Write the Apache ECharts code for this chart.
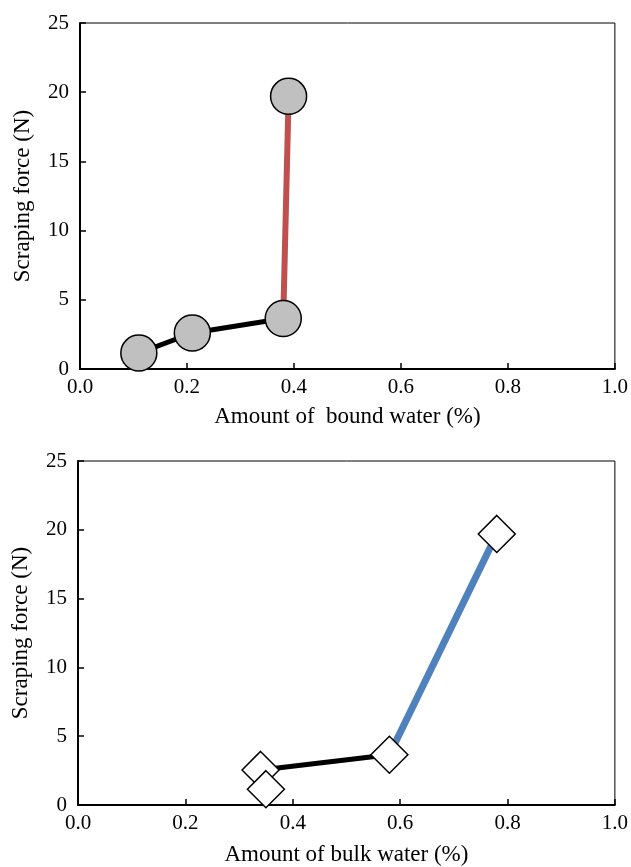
<!DOCTYPE html>
<html>
<head>
<meta charset="utf-8">
<script src="https://cdn.jsdelivr.net/npm/echarts@6/dist/echarts.min.js"></script>
<style>
  html, body { margin: 0; padding: 0; background: #fff; }
  #chart { width: 631px; height: 867px; }
</style>
</head>
<body>
<div id="chart"></div>
<script>
// top panel: bound water
const boundWater = [0.11, 0.21, 0.38, 0.39]
const boundForce = [1.15, 2.6, 3.65, 19.7]
// bottom panel: bulk water
const bulkWater = [0.35, 0.34, 0.58, 0.78]
const bulkForce = [1.15, 2.55, 3.65, 19.7]

const xTicks = [0, 0.2, 0.4, 0.6, 0.8, 1.0]
const yTicks = [0, 5, 10, 15, 20, 25]

const font = 'Liberation Serif, Times New Roman, serif'

const pts = (xs, ys) => xs.map((x, i) => [x, ys[i]])
const topPts = pts(boundWater, boundForce)
const botPts = pts(bulkWater, bulkForce)

const xAxisBase = (gridIndex, name, gap) => ({
  type: 'value',
  gridIndex,
  min: xTicks[0],
  max: xTicks[xTicks.length - 1],
  interval: 0.2,
  name,
  nameLocation: 'middle',
  nameGap: gap,
  nameTextStyle: { color: '#000', fontFamily: font, fontSize: 23 },
  axisLine: { show: true, lineStyle: { color: '#000', width: 2 } },
  axisTick: { show: true, inside: true, length: 6, lineStyle: { color: '#000', width: 1.5 } },
  axisLabel: { color: '#000', fontFamily: font, fontSize: 21, margin: 8, formatter: v => v.toFixed(1) },
  splitLine: { show: false }
})

const yAxisBase = (gridIndex) => ({
  type: 'value',
  gridIndex,
  min: yTicks[0],
  max: yTicks[yTicks.length - 1],
  interval: 5,
  name: 'Scraping force (N)',
  nameLocation: 'middle',
  nameGap: 46,
  nameTextStyle: { color: '#000', fontFamily: font, fontSize: 23 },
  axisLine: { show: true, lineStyle: { color: '#000', width: 2 } },
  axisTick: { show: true, inside: true, length: 6, lineStyle: { color: '#000', width: 1.5 } },
  axisLabel: { color: '#000', fontFamily: font, fontSize: 21, margin: 11 },
  splitLine: { show: false }
})

const lineSeries = (data, color, width, idx) => ({
  type: 'line',
  xAxisIndex: idx,
  yAxisIndex: idx,
  data,
  showSymbol: false,
  symbol: 'none',
  lineStyle: { color, width },
  z: 2,
  silent: true
})

const markSeries = (data, symbol, fill, size, idx) => ({
  type: 'scatter',
  xAxisIndex: idx,
  yAxisIndex: idx,
  data,
  symbol,
  symbolSize: size,
  itemStyle: { color: fill, borderColor: '#000', borderWidth: 1.5, opacity: 1 },
  z: 5,
  silent: true
})

const option = {
  backgroundColor: '#fff',
  animation: false,
  grid: [
    { left: 80, top: 23, width: 539, height: 346, show: true, borderColor: '#000', borderWidth: 1, backgroundColor: 'transparent' },
    { left: 78, top: 461, width: 539, height: 346, show: true, borderColor: '#000', borderWidth: 1, backgroundColor: 'transparent' }
  ],
  xAxis: [
    xAxisBase(0, 'Amount of  bound water (%)', 36),
    xAxisBase(1, 'Amount of bulk water (%)', 38)
  ],
  yAxis: [yAxisBase(0), yAxisBase(1)],
  series: [
    lineSeries(topPts.slice(0, 3), '#000', 5, 0),
    lineSeries(topPts.slice(2, 4), '#C0504D', 6, 0),
    markSeries(topPts, 'circle', '#C0C0C0', 36, 0),
    lineSeries(botPts.slice(0, 3), '#000', 5, 1),
    lineSeries(botPts.slice(2, 4), '#4F81BD', 7, 1),
    markSeries(botPts.slice().reverse(), 'diamond', '#fff', 37, 1)
  ]
}

const chart = echarts.init(document.getElementById('chart'))
chart.setOption(option)
</script>
</body>
</html>
